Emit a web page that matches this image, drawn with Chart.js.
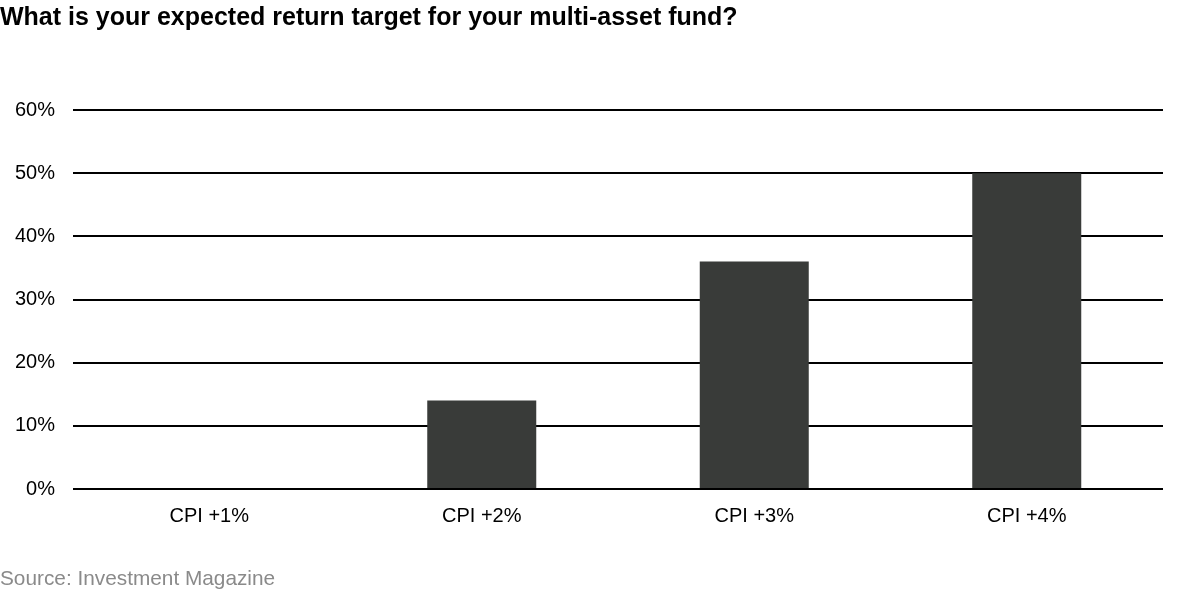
<!DOCTYPE html>
<html><head><meta charset="utf-8">
<script src="https://cdn.jsdelivr.net/npm/chart.js@4"></script>
<style>
html,body{margin:0;padding:0;background:#fff;width:1185px;height:592px;overflow:hidden;font-family:"Liberation Sans",Arial,sans-serif;}
#title{position:absolute;left:0;top:2px;font-size:25px;font-weight:bold;color:#000;white-space:nowrap;}
#source{position:absolute;left:0;top:566px;font-size:20.8px;color:#8a8a8a;white-space:nowrap;}
#wrap{position:absolute;left:0;top:0;width:1185px;height:592px;}
</style></head>
<body>
<div id="wrap"><canvas id="c" width="1185" height="592"></canvas></div>
<div id="title">What is your expected return target for your multi-asset fund?</div>
<div id="source">Source: Investment Magazine</div>
<script>
const categories = ["CPI +1%", "CPI +2%", "CPI +3%", "CPI +4%"];
const values = [0, 14, 36, 50];
const yTicks = [0, 10, 20, 30, 40, 50, 60];

new Chart(document.getElementById('c'), {
  type: 'bar',
  data: {
    labels: categories,
    datasets: [{
      data: values,
      backgroundColor: '#393b39',
      borderWidth: 0,
      categoryPercentage: 0.4,
      barPercentage: 1.0
    }]
  },
  options: {
    responsive: false,
    animation: false,
    devicePixelRatio: 1,
    layout: { padding: { top: 110, right: 22, left: 0, bottom: 0 } },
    plugins: { legend: { display: false }, tooltip: { enabled: false }, title: { display: false } },
    scales: {
      x: {
        grid: { display: false, drawTicks: false },
        border: { display: false },
        ticks: { color: '#000', font: { family: '"Liberation Sans", Arial, sans-serif', size: 20 }, padding: 15 },
        afterFit: s => { s.height = 103; }
      },
      y: {
        min: 0, max: 60,
        afterBuildTicks: s => { s.ticks = yTicks.map(v => ({ value: v })); },
        grid: { color: '#000', lineWidth: 2, drawTicks: false },
        border: { display: false },
        ticks: { color: '#000', font: { family: '"Liberation Sans", Arial, sans-serif', size: 20 }, padding: 18,
          callback: v => v + '%' },
        afterFit: s => { s.width = 73; }
      }
    }
  }
});
</script>
</body></html>
